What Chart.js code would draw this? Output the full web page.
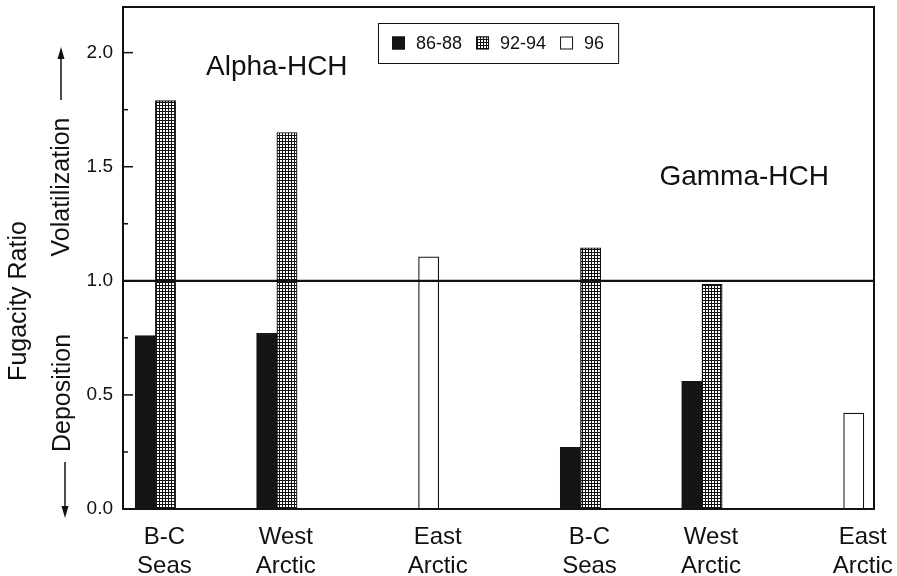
<!DOCTYPE html>
<html><head><meta charset="utf-8">
<script src="https://cdn.jsdelivr.net/npm/chart.js@4.4.1/dist/chart.umd.min.js"></script>
<style>html,body{margin:0;padding:0;background:#fff;overflow:hidden}canvas{display:block}</style>
</head><body>
<canvas id="c" width="897" height="576"></canvas>
<script>
// ---- data ----
const categories = [['B-C','Seas'],['West','Arctic'],['East','Arctic'],['B-C','Seas'],['West','Arctic'],['East','Arctic']];
const seriesLabels = ['86-88','92-94','96'];
const values8688 = [0.76, 0.77, null, 0.27, 0.56, null];
const values9294 = [1.79, 1.65, null, 1.145, 0.985, null];
const values96   = [null, null, 1.105, null, null, 0.42];
const yTicks = [0, 0.5, 1.0, 1.5, 2.0];
const yMinorTicks = [0.25, 0.75, 1.25, 1.75];
const referenceLevel = 1.0;
const groupTitles = ['Alpha-HCH', 'Gamma-HCH'];
const axisTitle = 'Fugacity Ratio';
const upLabel = 'Volatilization';
const downLabel = 'Deposition';

// ---- layout helpers ----
const FONT = '"Liberation Sans", Arial, Helvetica, sans-serif';
const INK = '#111';
function groupSlot(i) { return i * 6 + (i >= 3 ? 3 : 0); }
const seriesOffset = [-1, 0, 1];
const allSeries = [values8688, values9294, values96];
const labelPos = categories.map((c, i) => {
  const xs = [];
  allSeries.forEach((s, k) => { if (s[i] !== null) xs.push(groupSlot(i) + seriesOffset[k]); });
  return xs.reduce((a, b) => a + b, 0) / xs.length;
});

function makeHatch() {
  const c = document.createElement('canvas'); c.width = 3; c.height = 3;
  const g = c.getContext('2d');
  g.fillStyle = '#fff'; g.fillRect(0, 0, 3, 3);
  g.fillStyle = '#111'; g.fillRect(0, 0, 3, 1); g.fillRect(0, 0, 1, 3);
  return g.createPattern(c, 'repeat');
}
const hatch = makeHatch();
const fills = ['#141414', hatch, '#ffffff'];

const datasets = allSeries.map((s, k) => ({
  label: seriesLabels[k],
  data: s.map((v, i) => ({ x: groupSlot(i) + seriesOffset[k], y: v })),
  backgroundColor: fills[k],
  borderColor: INK,
  borderWidth: 1.2,
  grouped: false,
  barPercentage: 1,
  categoryPercentage: 1
}));

const decor = {
  id: 'decor',
  afterDatasetsDraw(chart) {
    const ctx = chart.ctx, ca = chart.chartArea;
    const xs = chart.scales.x, ys = chart.scales.y;
    ctx.save();
    // reference line
    const yr = ys.getPixelForValue(referenceLevel);
    ctx.strokeStyle = INK; ctx.lineWidth = 2.2;
    ctx.beginPath(); ctx.moveTo(ca.left, yr); ctx.lineTo(ca.right, yr); ctx.stroke();
    // frame
    ctx.lineWidth = 2;
    ctx.strokeRect(ca.left, ca.top, ca.right - ca.left, ca.bottom - ca.top);
    // inward ticks
    ctx.lineWidth = 1.5;
    yTicks.forEach(v => { const y = ys.getPixelForValue(v); ctx.beginPath(); ctx.moveTo(ca.left, y); ctx.lineTo(ca.left + 10, y); ctx.stroke(); });
    yMinorTicks.forEach(v => { const y = ys.getPixelForValue(v); ctx.beginPath(); ctx.moveTo(ca.left, y); ctx.lineTo(ca.left + 5, y); ctx.stroke(); });
    // legend
    ctx.font = '18px ' + FONT;
    const sw = 13, gapST = 11, gapItem = 14, padX = 14, h = 40;
    const tws = seriesLabels.map(t => ctx.measureText(t).width);
    let total = padX * 2 + gapItem * (seriesLabels.length - 1);
    tws.forEach(w => total += sw + gapST + w);
    const x0 = Math.round((ca.left + ca.right) / 2 - total / 2), y0 = ca.top + 16;
    ctx.lineWidth = 1; ctx.strokeStyle = INK;
    ctx.strokeRect(x0 + 0.5, y0 + 0.5, total, h);
    let cx = x0 + padX; const cy = y0 + h / 2;
    ctx.textBaseline = 'middle'; ctx.textAlign = 'left'; ctx.fillStyle = INK;
    seriesLabels.forEach((t, k) => {
      ctx.fillStyle = fills[k];
      ctx.fillRect(cx, cy - sw / 2, sw, sw);
      ctx.strokeRect(cx + 0.5, cy - sw / 2 + 0.5, sw - 1, sw - 1);
      cx += sw + gapST;
      ctx.fillStyle = INK;
      ctx.fillText(t, cx, cy + 1);
      cx += tws[k] + gapItem;
    });
    // group titles
    ctx.font = '28px ' + FONT; ctx.textBaseline = 'alphabetic'; ctx.textAlign = 'left';
    ctx.fillText(groupTitles[0], xs.getPixelForValue(2.0), ys.getPixelForValue(1.9));
    ctx.fillText(groupTitles[1], xs.getPixelForValue(24.4), ys.getPixelForValue(1.42));
    // rotated axis titles
    ctx.font = '25px ' + FONT; ctx.textAlign = 'center';
    const rot = (t, x, y) => { ctx.save(); ctx.translate(x, y); ctx.rotate(-Math.PI / 2); ctx.fillText(t, 0, 0); ctx.restore(); };
    rot(axisTitle, 26, 301);
    rot(upLabel, 69, 187);
    rot(downLabel, 70, 393);
    // arrows
    ctx.lineWidth = 1.5;
    ctx.beginPath(); ctx.moveTo(61, 100); ctx.lineTo(61, 55); ctx.stroke();
    ctx.beginPath(); ctx.moveTo(61, 47); ctx.lineTo(57.5, 59); ctx.lineTo(64.5, 59); ctx.closePath(); ctx.fill();
    ctx.beginPath(); ctx.moveTo(65, 462); ctx.lineTo(65, 510); ctx.stroke();
    ctx.beginPath(); ctx.moveTo(65, 518); ctx.lineTo(61.5, 506); ctx.lineTo(68.5, 506); ctx.closePath(); ctx.fill();
    ctx.restore();
  }
};

new Chart(document.getElementById('c'), {
  type: 'bar',
  data: { datasets },
  options: {
    responsive: false, animation: false, devicePixelRatio: 1,
    layout: { padding: { left: 0, right: 23, top: 7, bottom: 0 } },
    plugins: { legend: { display: false }, tooltip: { enabled: false } },
    scales: {
      x: {
        type: 'linear', min: -2.1, max: 35, offset: false,
        grid: { display: false, drawTicks: false }, border: { display: false },
        afterBuildTicks: s => { s.ticks = labelPos.map(v => ({ value: v })); },
        afterFit: s => { s.height = 67; s.paddingLeft = 0; s.paddingRight = 0; },
        ticks: { callback: (v, i) => categories[i], font: { family: FONT, size: 24, lineHeight: 1.2 }, color: INK,
                 padding: 14, labelOffset: 9, autoSkip: false, maxRotation: 0, minRotation: 0 }
      },
      y: {
        min: 0, max: 2.2,
        grid: { display: false, drawTicks: false }, border: { display: false },
        afterBuildTicks: s => { s.ticks = yTicks.map(v => ({ value: v })); },
        afterFit: s => { s.width = 123; s.paddingTop = 0; s.paddingBottom = 0; },
        ticks: { callback: v => v.toFixed(1), font: { family: FONT, size: 19 }, color: INK, padding: 10 }
      }
    }
  },
  plugins: [decor]
});
</script>
</body></html>
